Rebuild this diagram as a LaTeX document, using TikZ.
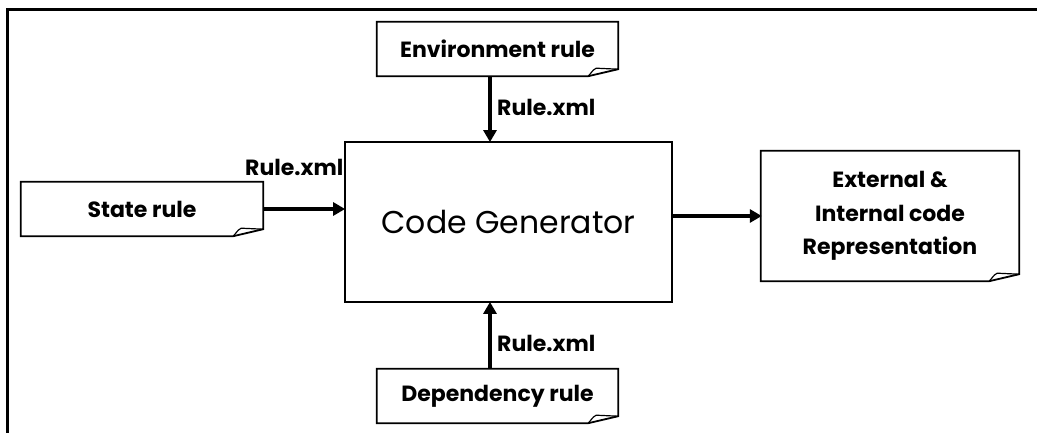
\documentclass[tikz,border=0pt]{standalone}
\usepackage{fontspec}
\setmainfont{Poppins}
\usetikzlibrary{arrows.meta}
\tikzset{
  lbl/.style={font=\bfseries\fontsize{22}{33.5}\selectfont, inner sep=0pt},
  notebox/.style={rectangle, inner sep=0pt, align=center, font=\bfseries\fontsize{22}{33.5}\selectfont},
  notedraw/.style={line width=1.8pt, line join=miter},
  folddraw/.style={line width=1.2pt},
  arr/.style={line width=3.5pt, -{Triangle[length=12pt,width=13pt]}, shorten >=-1pt},
}
\begin{document}
\begin{tikzpicture}[x=1pt,y=-1pt]
\useasboundingbox (0,0) rectangle (1037,433);
% outer frame
\coordinate (fbl) at (7.5,433);
\coordinate (ftl) at (7.5,9.5);
\coordinate (ftr) at (1037,9.5);
\draw[line width=3pt] (fbl) -- (ftl) -- (ftr);

\node[notebox, minimum width=241pt, minimum height=54pt] (env) at (497.5,49) {Environment rule};
\node[notebox, minimum width=242pt, minimum height=54pt] (state) at (142,209) {State rule};
\node[notebox, minimum width=241pt, minimum height=54pt] (dep) at (497.5,396) {Dependency rule};
\node[notebox, minimum width=258pt, minimum height=130pt] (out) at (890,216) {External \&\\Internal code\\Representation};
\node[draw, line width=1.8pt, rectangle, minimum width=327pt, minimum height=160pt, font=\fontsize{31.5}{40}\selectfont] (main) at (508.5,222) {Code Generator};

\foreach \n in {env,state,dep,out}{
  \draw[notedraw] (\n.north west) -- (\n.north east) -- ([yshift=7pt]\n.south east) -- ([xshift=-30pt]\n.south east) -- (\n.south west) -- cycle;
  \draw[folddraw] ([xshift=-30pt]\n.south east) .. controls ([xshift=-27pt,yshift=3pt]\n.south east) and ([xshift=-26pt,yshift=6pt]\n.south east) .. ([xshift=-22pt,yshift=8pt]\n.south east) -- ([yshift=7pt]\n.south east);
}

\draw[arr] ([xshift=-7.5pt]env.south) -- ([xshift=-7.5pt]env.south |- main.north);
\draw[arr] ([xshift=-7.5pt]dep.north) -- ([xshift=-7.5pt]dep.north |- main.south);
\draw[arr] (state.east) -- (state.east -| main.west);
\draw[arr] (main.east |- out.west) -- (out.west);

\node[lbl, anchor=west] (l1) at (497,107) {Rule.xml};
\node[lbl, anchor=west] (l2) at (245,167) {Rule.xml};
\node[lbl, anchor=west] (l3) at (497,343) {Rule.xml};
\end{tikzpicture}
\end{document}
